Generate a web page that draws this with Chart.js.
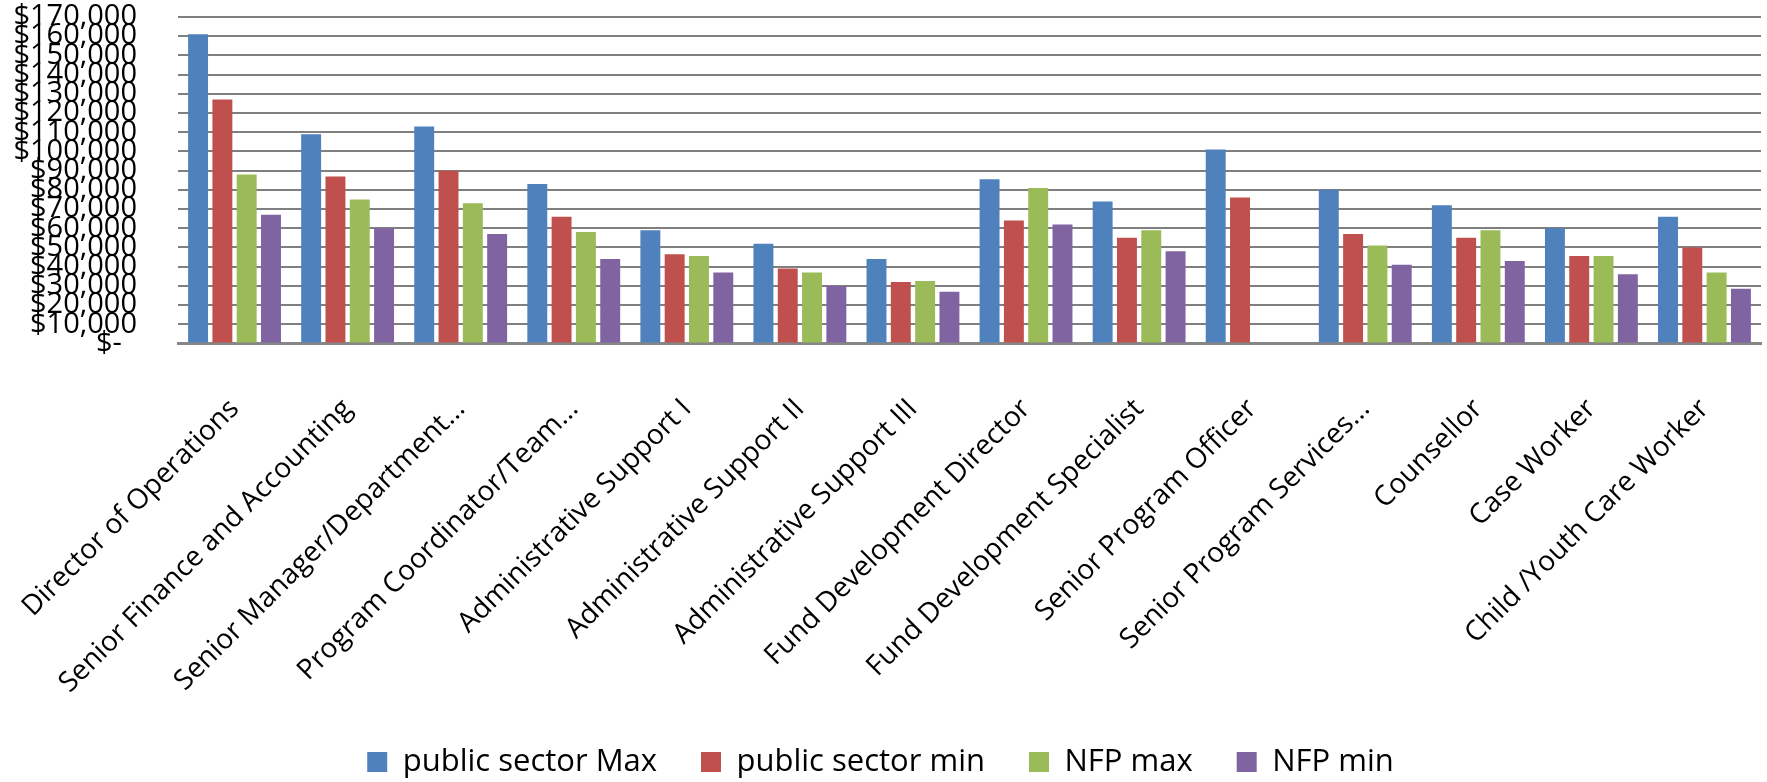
<!DOCTYPE html>
<html lang="en">
<head>
  <meta charset="UTF-8">
  <title>Salary comparison</title>
  <style>
    html, body { margin: 0; padding: 0; background: #fff; }
    #wrap { width: 1767px; height: 782px; }
  </style>
</head>
<body>
  <div id="wrap"><canvas id="salaryChart" width="1767" height="782"></canvas></div>

  <script src="https://cdn.jsdelivr.net/npm/chart.js"></script>
  <script>
    const categories = [
      'Director of Operations',
      'Senior Finance and Accounting',
      'Senior Manager/Department...',
      'Program Coordinator/Team...',
      'Administrative Support I',
      'Administrative Support II',
      'Administrative Support III',
      'Fund Development Director',
      'Fund Development Specialist',
      'Senior Program Officer',
      'Senior Program Services...',
      'Counsellor',
      'Case Worker',
      'Child /Youth Care Worker'
    ];

    const publicMax = [161000, 109000, 113000, 83000, 59000, 52000, 44000, 85500, 74000, 101000, 80000, 72000, 60000, 66000];
    const publicMin = [127000, 87000, 90000, 66000, 46500, 39000, 32000, 64000, 55000, 76000, 57000, 55000, 45500, 50000];
    const nfpMax = [88000, 75000, 73000, 58000, 45600, 37000, 32500, 81000, 59000, null, 51000, 59000, 45600, 37000];
    const nfpMin = [67000, 60000, 57000, 44000, 37000, 30000, 27000, 62000, 48000, null, 41000, 43000, 36000, 28500];

    const yTickLabels = ['$-', '$10,000', '$20,000', '$30,000', '$40,000', '$50,000', '$60,000', '$70,000',
      '$80,000', '$90,000', '$100,000', '$110,000', '$120,000', '$130,000', '$140,000', '$150,000',
      '$160,000', '$170,000'];

    Chart.defaults.font.family = '"Open Sans", "Noto Sans", sans-serif';
    Chart.defaults.color = '#000';

    const ctx = document.getElementById('salaryChart').getContext('2d');
    new Chart(ctx, {
      type: 'bar',
      data: {
        labels: categories,
        datasets: [
          { label: 'public sector Max', data: publicMax, backgroundColor: '#4F81BD' },
          { label: 'public sector min', data: publicMin, backgroundColor: '#C0504D' },
          { label: 'NFP max', data: nfpMax, backgroundColor: '#9BBB59' },
          { label: 'NFP min', data: nfpMin, backgroundColor: '#8064A2' }
        ]
      },
      options: {
        responsive: false,
        animation: false,
        categoryPercentage: 0.86,
        barPercentage: 0.82,
        layout: { padding: { top: 3, right: 6, bottom: -5.5, left: 0 } },
        plugins: {
          legend: {
            position: 'bottom',
            labels: {
              boxWidth: 20,
              boxHeight: 20,
              padding: 44,
              font: { size: 31 }
            }
          },
          tooltip: { enabled: false }
        },
        scales: {
          x: {
            grid: { display: false },
            border: { display: true, color: '#868686', width: 3 },
            ticks: {
              autoSkip: false,
              minRotation: 45,
              maxRotation: 45,
              padding: 41,
              font: { size: 28 }
            },
            afterFit: (axis) => {
              axis.height = 359;
              axis.paddingLeft = 0;
              axis.paddingRight = 0;
            }
          },
          y: {
            min: 0,
            max: 170000,
            grid: { color: '#7f7f7f', lineWidth: 2, drawTicks: false },
            border: { display: false },
            ticks: {
              stepSize: 10000,
              autoSkip: false,
              padding: 41,
              font: { size: 29 },
              callback: (value, i) => i === 0 ? yTickLabels[i] + '  ' : yTickLabels[i]
            },
            afterFit: (axis) => {
              axis.width = 178;
              axis.paddingTop = 17;
              axis.paddingBottom = 0;
            }
          }
        }
      }
    });
  </script>
</body>
</html>
